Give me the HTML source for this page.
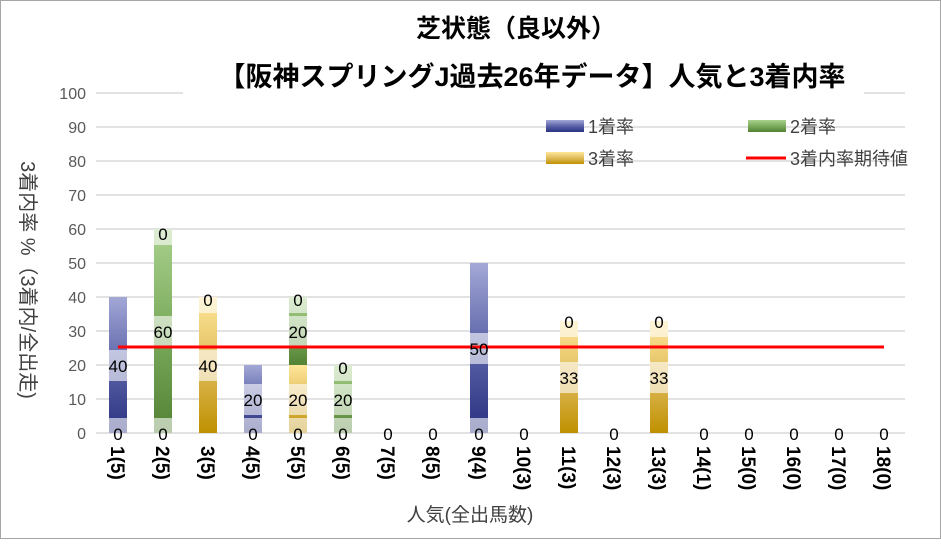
<!DOCTYPE html>
<html><head><meta charset="utf-8"><style>
html,body{margin:0;padding:0;background:#fff;}
svg text{font-family:"Liberation Sans","Noto Sans CJK JP",sans-serif;}
</style></head><body>
<svg width="941" height="539" xmlns="http://www.w3.org/2000/svg">
<defs>
<linearGradient id="gb" x1="0" y1="1" x2="0" y2="0"><stop offset="0" stop-color="#2a3180"/><stop offset="0.5" stop-color="#5b63a8"/><stop offset="1" stop-color="#a3a8d6"/></linearGradient>
<linearGradient id="gg" x1="0" y1="1" x2="0" y2="0"><stop offset="0" stop-color="#548235"/><stop offset="0.5" stop-color="#7bab5c"/><stop offset="1" stop-color="#a9d18e"/></linearGradient>
<linearGradient id="gy" x1="0" y1="1" x2="0" y2="0"><stop offset="0" stop-color="#bf9000"/><stop offset="0.5" stop-color="#e0bc5c"/><stop offset="1" stop-color="#ffe699"/></linearGradient>
</defs>
<rect x="0.5" y="0.5" width="940" height="538" fill="#fff" stroke="#a6a6a6"/>
<g stroke="#d9d9d9" stroke-width="1.5">
<line x1="96" x2="905" y1="93" y2="93"/><line x1="96" x2="905" y1="127" y2="127"/><line x1="96" x2="905" y1="161" y2="161"/><line x1="96" x2="905" y1="195" y2="195"/><line x1="96" x2="905" y1="229" y2="229"/><line x1="96" x2="905" y1="263" y2="263"/><line x1="96" x2="905" y1="297" y2="297"/><line x1="96" x2="905" y1="331" y2="331"/><line x1="96" x2="905" y1="365" y2="365"/><line x1="96" x2="905" y1="399" y2="399"/><line x1="96" x2="905" y1="433" y2="433"/>
</g>
<rect x="183" y="60" width="681" height="38" fill="#fff"/>
<g font-size="16" fill="#595959" text-anchor="end">
<text x="86" y="99">100</text><text x="86" y="133">90</text><text x="86" y="167">80</text><text x="86" y="201">70</text><text x="86" y="235">60</text><text x="86" y="269">50</text><text x="86" y="303">40</text><text x="86" y="337">30</text><text x="86" y="371">20</text><text x="86" y="405">10</text><text x="86" y="439">0</text>
</g>
<rect x="109" y="297" width="18" height="136" fill="url(#gb)"/>
<rect x="154" y="229" width="18" height="204" fill="url(#gg)"/>
<rect x="199" y="297" width="18" height="136" fill="url(#gy)"/>
<rect x="244" y="365" width="18" height="68" fill="url(#gb)"/>
<rect x="289" y="365" width="18" height="68" fill="url(#gy)"/>
<rect x="289" y="297" width="18" height="68" fill="url(#gg)"/>
<rect x="334" y="365" width="18" height="68" fill="url(#gg)"/>
<rect x="470" y="263" width="18" height="170" fill="url(#gb)"/>
<rect x="560" y="321" width="18" height="112" fill="url(#gy)"/>
<rect x="650" y="321" width="18" height="112" fill="url(#gy)"/>
<g fill="#fff" opacity="0.6">
<rect x="109" y="418" width="18" height="15"/><rect x="109" y="350" width="18" height="31"/>
<rect x="154" y="418" width="18" height="15"/><rect x="154" y="316" width="18" height="31"/><rect x="154" y="229" width="18" height="16"/>
<rect x="199" y="350" width="18" height="31"/><rect x="199" y="297" width="18" height="16"/>
<rect x="244" y="418" width="18" height="15"/><rect x="244" y="384" width="18" height="31"/>
<rect x="289" y="418" width="18" height="15"/><rect x="289" y="384" width="18" height="31"/><rect x="289" y="316" width="18" height="31"/><rect x="289" y="297" width="18" height="16"/>
<rect x="334" y="418" width="18" height="15"/><rect x="334" y="384" width="18" height="31"/><rect x="334" y="365" width="18" height="16"/>
<rect x="470" y="418" width="18" height="15"/><rect x="470" y="333" width="18" height="31"/>
<rect x="560" y="362" width="18" height="31"/><rect x="560" y="321" width="18" height="16"/>
<rect x="650" y="362" width="18" height="31"/><rect x="650" y="321" width="18" height="16"/>
</g>
<line x1="118" x2="884" y1="347" y2="347" stroke="#ff0000" stroke-width="3"/>
<g font-size="17" fill="#000" text-anchor="middle">
<text x="118" y="440">0</text><text x="118" y="372">40</text>
<text x="163" y="440">0</text><text x="163" y="338">60</text><text x="163" y="240">0</text>
<text x="208" y="372">40</text><text x="208" y="306">0</text>
<text x="253" y="440">0</text><text x="253" y="406">20</text>
<text x="298" y="440">0</text><text x="298" y="406">20</text><text x="298" y="338">20</text><text x="298" y="306">0</text>
<text x="343" y="440">0</text><text x="343" y="406">20</text><text x="343" y="374">0</text>
<text x="388" y="440">0</text><text x="433" y="440">0</text>
<text x="479" y="440">0</text><text x="479" y="355">50</text>
<text x="524" y="440">0</text>
<text x="569" y="384">33</text><text x="569" y="328">0</text>
<text x="614" y="440">0</text>
<text x="659" y="384">33</text><text x="659" y="328">0</text>
<text x="704" y="440">0</text><text x="749" y="440">0</text><text x="794" y="440">0</text><text x="839" y="440">0</text><text x="884" y="440">0</text>
</g>
<g font-size="19" font-weight="bold" fill="#000">
<text transform="translate(111,446) rotate(90)">1(5)</text>
<text transform="translate(156,446) rotate(90)">2(5)</text>
<text transform="translate(201,446) rotate(90)">3(5)</text>
<text transform="translate(246,446) rotate(90)">4(5)</text>
<text transform="translate(291,446) rotate(90)">5(5)</text>
<text transform="translate(336,446) rotate(90)">6(5)</text>
<text transform="translate(381,446) rotate(90)">7(5)</text>
<text transform="translate(426,446) rotate(90)">8(5)</text>
<text transform="translate(472,446) rotate(90)">9(4)</text>
<text transform="translate(517,446) rotate(90)">10(3)</text>
<text transform="translate(562,446) rotate(90)">11(3)</text>
<text transform="translate(607,446) rotate(90)">12(3)</text>
<text transform="translate(652,446) rotate(90)">13(3)</text>
<text transform="translate(697,446) rotate(90)">14(1)</text>
<text transform="translate(742,446) rotate(90)">15(0)</text>
<text transform="translate(787,446) rotate(90)">16(0)</text>
<text transform="translate(832,446) rotate(90)">17(0)</text>
<text transform="translate(877,446) rotate(90)">18(0)</text>
</g>
<text x="470" y="521" font-size="19" fill="#404040" text-anchor="middle">人気(全出馬数)</text>
<text transform="translate(21,280) rotate(90)" font-size="20" fill="#404040" text-anchor="middle">3着内率 %（3着内/全出走)</text>
<g font-weight="bold" fill="#000" text-anchor="middle">
<text x="516" y="37" font-size="25">芝状態（良以外）</text>
<text x="532" y="86" font-size="27">【阪神スプリングJ過去26年データ】人気と3着内率</text>
</g>
<g font-size="18" fill="#404040">
<rect x="546" y="120" width="38" height="12" fill="url(#gb)"/><text x="588" y="133">1着率</text>
<rect x="748" y="120" width="38" height="12" fill="url(#gg)"/><text x="790" y="133">2着率</text>
<rect x="546" y="152" width="38" height="12" fill="url(#gy)"/><text x="588" y="165">3着率</text>
<line x1="746" x2="786" y1="158" y2="158" stroke="#ff0000" stroke-width="3"/><text x="790" y="165">3着内率期待値</text>
</g>
</svg>
</body></html>
